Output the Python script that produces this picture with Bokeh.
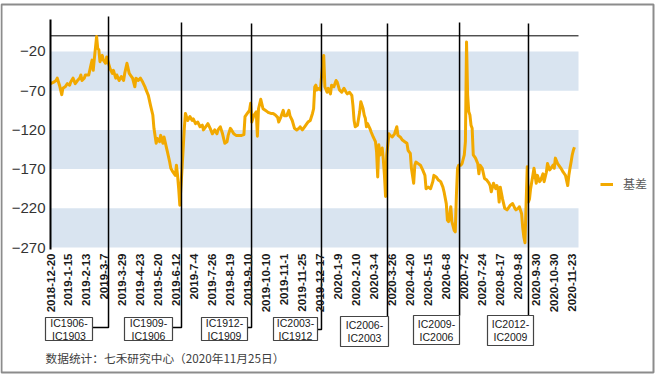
import math
from bokeh.plotting import figure
from bokeh.models import (Range1d, FixedTicker, BoxAnnotation, Legend, LegendItem)
from bokeh.core.properties import value
from bokeh.embed import file_html
from bokeh.resources import INLINE

# ---------------- data ----------------
tick_labels = ["2018-12-20", "2019-1-15", "2019-2-13", "2019-3-7", "2019-3-29", "2019-4-23",
               "2019-5-20", "2019-6-12", "2019-7-4", "2019-7-26", "2019-8-19", "2019-9-10",
               "2019-10-10", "2019-11-1", "2019-11-25", "2019-12-17", "2020-1-9", "2020-2-10",
               "2020-3-4", "2020-3-26", "2020-4-20", "2020-5-15", "2020-6-8", "2020-7-2",
               "2020-7-24", "2020-8-17", "2020-9-8", "2020-9-30", "2020-10-30", "2020-11-23"]
# trading-day index of each tick label
tick_pos = [0, 16, 32, 48, 64, 80, 96, 112, 128, 144, 160, 176, 192, 208, 224, 240,
            256, 272, 288, 304, 320, 336, 352, 368, 384, 400, 416, 432, 448, 464]

# trading-day index and basis value
day_idx = [0, 3, 5, 6, 8, 10, 11, 13, 15, 17, 18, 20, 22, 24, 26, 27, 28, 30, 31, 34,
           36, 37, 38, 39, 41, 42, 43, 44, 46, 47, 49, 50, 52, 53, 55, 56, 58, 59, 61, 63,
           65, 66, 68, 70, 72, 73, 75, 76, 78, 80, 82, 84, 85, 87, 89, 91, 92, 94, 95, 97,
           98, 100, 101, 103, 104, 106, 107, 109, 111, 112, 113, 114, 115, 117, 119, 120, 122, 124, 126, 127,
           129, 131, 133, 135, 136, 138, 140, 142, 144, 146, 148, 149, 151, 153, 155, 157, 158, 160, 161, 163,
           165, 167, 168, 170, 172, 173, 175, 177, 178, 179, 181, 183, 184, 185, 187, 189, 191, 193, 194, 196,
           198, 200, 202, 203, 205, 207, 208, 210, 212, 213, 215, 217, 219, 221, 222, 224, 226, 228, 229, 231,
           233, 234, 235, 236, 237, 239, 240, 242, 243, 244, 246, 247, 249, 250, 252, 254, 255, 257, 259, 261,
           263, 264, 266, 268, 269, 270, 271, 273, 275, 276, 278, 279, 280, 281, 282, 284, 285, 287, 289, 290,
           291, 292, 293, 295, 296, 297, 298, 299, 301, 302, 304, 306, 308, 309, 311, 313, 315, 317, 318, 320,
           321, 323, 324, 325, 327, 329, 331, 333, 334, 336, 338, 340, 341, 343, 345, 347, 349, 350, 352, 353,
           354, 355, 356, 357, 359, 360, 361, 362, 363, 365, 366, 368, 369, 370, 371, 372, 373, 374, 375, 376,
           378, 380, 381, 382, 384, 386, 388, 390, 391, 392, 394, 396, 397, 398, 399, 400, 402, 404, 406, 407,
           409, 411, 413, 414, 416, 417, 419, 420, 421, 422, 423, 424, 425, 426, 427, 429, 430, 432, 433, 435,
           436, 438, 439, 441, 442, 444, 445, 447, 448, 449, 451, 452, 454, 456, 458, 460, 461, 462, 463, 464,
           465, 466]
basis = [-61, -59, -57, -54, -63, -75, -67, -65, -61, -63, -59, -54, -61, -57, -54, -50, -57, -54, -50, -50,
         -37, -31, -44, -29, -1, -16, -18, -33, -25, -31, -35, -27, -37, -42, -48, -44, -54, -50, -57, -52,
         -57, -48, -35, -48, -52, -54, -65, -54, -57, -54, -59, -65, -69, -76, -89, -101, -118, -137, -131, -135,
         -127, -137, -129, -142, -148, -161, -169, -174, -178, -165, -178, -195, -216, -169, -118, -99, -108, -103, -108, -106,
         -112, -110, -116, -114, -120, -116, -112, -118, -125, -120, -125, -120, -116, -125, -137, -135, -127, -118, -120, -125,
         -127, -127, -127, -127, -126, -103, -99, -95, -86, -110, -101, -97, -128, -93, -81, -93, -95, -97, -98, -99,
         -99, -101, -104, -110, -103, -95, -102, -102, -95, -102, -108, -118, -120, -118, -116, -120, -116, -112, -110, -108,
         -99, -93, -65, -63, -69, -67, -69, -37, -25, -65, -72, -67, -74, -63, -65, -57, -59, -69, -72, -67,
         -72, -74, -72, -76, -89, -108, -116, -114, -97, -84, -93, -101, -105, -116, -112, -118, -122, -129, -135, -148,
         -180, -139, -152, -143, -158, -178, -205, -152, -125, -127, -129, -125, -116, -127, -129, -133, -135, -137, -146, -150,
         -169, -188, -165, -161, -163, -165, -171, -178, -195, -193, -195, -186, -178, -180, -184, -186, -193, -199, -214, -235,
         -237, -229, -218, -237, -248, -250, -203, -169, -165, -165, -163, -152, -135, -8, -76, -97, -101, -114, -118, -152,
         -156, -163, -176, -165, -169, -182, -184, -188, -191, -199, -188, -195, -191, -195, -212, -193, -208, -220, -222, -220,
         -216, -214, -220, -222, -220, -218, -227, -245, -257, -264, -214, -167, -212, -208, -195, -178, -169, -188, -178, -186,
         -184, -176, -186, -174, -163, -171, -169, -165, -169, -156, -163, -165, -169, -174, -178, -191, -178, -169, -161, -152,
         -146, -142]

y_ticks = [-270, -220, -170, -120, -70, -20]

# contract roll positions (trading-day index) and the contract pairs
roll_idx = [51.6, 116.5, 178.8, 241.0, 299.7, 363.8, 425.1]
roll_top = ["IC1906-", "IC1909-", "IC1912-", "IC2003-", "IC2006-", "IC2009-", "IC2012-"]
roll_bottom = ["IC1903", "IC1906", "IC1909", "IC1912", "IC2003", "IC2006", "IC2009"]

series_name = "基差"
source_note = "数据统计：七禾研究中心（2020年11月25日）"

# ---------------- layout (pixel geometry of the picture) ----------------
W, H = 657, 375
PX0, PY0 = 50, 35        # pixel of (index 0, value 0.4) = plot area top-left
PX_PER_DAY = 1.1244
PX_PER_UNIT = 212 / 270.4
Y_TOP = 0.4
X_PLOT_END = (578 - PX0) / PX_PER_DAY

def dx(px):
    return (px - PX0) / PX_PER_DAY

def dy(py):
    return Y_TOP - (py - PY0) / PX_PER_UNIT

FONT = "Liberation Sans"
CJK = "Noto Sans CJK SC"
ORANGE = "#F2A900"
BAND = "#D9E4F0"

p = figure(width=W, height=H, output_backend="svg", toolbar_location=None, title=None,
           x_range=Range1d(dx(0), dx(W)), y_range=Range1d(dy(H), dy(0)),
           min_border_left=0, min_border_right=0, min_border_top=0, min_border_bottom=0)
p.background_fill_color = "white"
p.border_fill_color = "white"
p.outline_line_color = None
p.xgrid.visible = False
p.ygrid.visible = False

# horizontal bands between alternate y ticks
for a, b in zip(y_ticks[0::2], y_ticks[1::2]):
    p.add_layout(BoxAnnotation(left=0, right=X_PLOT_END, bottom=a, top=b, fill_color=BAND,
                               fill_alpha=1.0, line_alpha=0, level="underlay"))

# y axis, drawn at the plot's left edge
p.yaxis.fixed_location = 0
p.yaxis.ticker = FixedTicker(ticks=y_ticks)
p.yaxis.axis_line_color = None
p.yaxis.major_tick_line_color = None
p.yaxis.minor_tick_line_color = None
p.yaxis.major_tick_out = 0
p.yaxis.major_tick_in = 0
p.yaxis.major_label_standoff = 5
p.yaxis.major_label_text_font = FONT
p.yaxis.major_label_text_font_size = "15px"
p.yaxis.major_label_text_color = "#333333"

# x axis, drawn at the plot's bottom edge (vertical date labels)
p.xaxis.fixed_location = y_ticks[0]
p.xaxis.ticker = FixedTicker(ticks=tick_pos)
p.xaxis.major_label_overrides = {t: l for t, l in zip(tick_pos, tick_labels)}
p.xaxis.major_label_orientation = math.pi / 2
p.xaxis.axis_line_color = None
p.xaxis.major_tick_line_color = None
p.xaxis.minor_tick_line_color = None
p.xaxis.major_tick_out = 0
p.xaxis.major_tick_in = 0
p.xaxis.major_label_standoff = 6
p.xaxis.major_label_text_font = FONT
p.xaxis.major_label_text_font_style = "bold"
p.xaxis.major_label_text_font_size = "11.5px"
p.xaxis.major_label_text_color = "#1a1a1a"

# top border line at 0 and left axis line
p.segment(x0=[0], y0=[0], x1=[X_PLOT_END], y1=[0], line_color="black", line_width=1)

line_r = p.line(day_idx, basis, line_color=ORANGE, line_width=3, line_join="round")

p.segment(x0=[0], y0=[dy(19)], x1=[0], y1=[dy(249)], line_color="black", line_width=2)

# roll lines + callout boxes
line_tops = [16, 22, 23, 23, 23, 22, 23]
boxes = [(45, 92, 317, 340), (124, 172, 317, 340), (201, 247, 317, 340), (273, 317, 317, 340),
         (340, 388, 316, 346), (413, 459, 315, 344), (487, 533, 315, 345)]
elbows = [327, 327, 327, 329, None, None, None]
xs, ys = [], []
for r, top, (bl, br, bt, bb), el in zip(roll_idx, line_tops, boxes, elbows):
    if el is not None:
        xs.append([r, r, dx(br)])
        ys.append([dy(top), dy(el), dy(el)])
    else:
        xs.append([r, r])
        ys.append([dy(top), dy(bt)])
p.multi_line(xs, ys, line_color="black", line_width=1.5)

p.quad(left=[dx(b[0]) for b in boxes], right=[dx(b[1]) for b in boxes],
       top=[dy(b[2]) for b in boxes], bottom=[dy(b[3]) for b in boxes],
       fill_color="white", line_color="#444444", line_width=1.2)
cxs = [dx((b[0] + b[1]) / 2) for b in boxes]
p.text(x=cxs, y=[dy((b[2] + b[3]) / 2 - 6.5) for b in boxes], text=roll_top,
       text_align="center", text_baseline="middle", text_font=value(FONT),
       text_font_size="10.5px", text_color="#1a1a1a")
p.text(x=cxs, y=[dy((b[2] + b[3]) / 2 + 6.5) for b in boxes], text=roll_bottom,
       text_align="center", text_baseline="middle", text_font=value(FONT),
       text_font_size="10.5px", text_color="#1a1a1a")

# source note
p.text(x=[dx(45)], y=[dy(357)], text=[source_note], text_align="left", text_baseline="middle",
       text_font=value(CJK), text_font_size="11.7px", text_color="#404040")

# outer border
p.quad(left=[dx(1)], right=[dx(653)], top=[dy(4)], bottom=[dy(372)],
       fill_color=None, line_color="#8c8c8c", line_width=2)

legend = Legend(items=[LegendItem(label=series_name, renderers=[line_r])],
                location=(600, H - 192))
legend.border_line_color = None
legend.background_fill_alpha = 0
legend.padding = 0
legend.margin = 0
legend.glyph_width = 13
legend.glyph_height = 14
legend.label_height = 14
legend.label_standoff = 10
legend.label_text_font = CJK
legend.label_text_font_size = "12px"
legend.label_text_color = "#595959"
p.add_layout(legend)

open("out.html", "w").write(file_html(p, INLINE))
